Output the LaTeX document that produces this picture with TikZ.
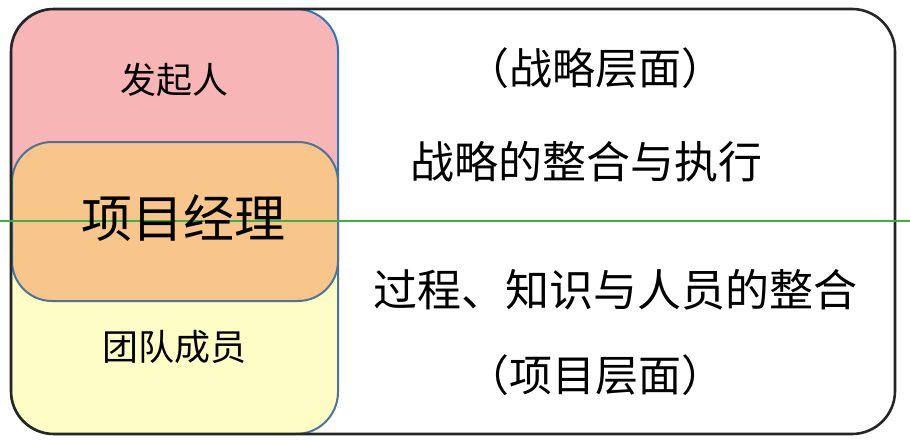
\documentclass[tikz,border=0pt]{standalone}
\usepackage{fontspec}
\setmainfont{Noto Sans CJK SC}
\usetikzlibrary{positioning}
\definecolor{cpink}{HTML}{F8B5B6}
\definecolor{corange}{HTML}{F8C68B}
\definecolor{cyellow}{HTML}{FFFDC6}
\definecolor{cblue}{HTML}{2E75C0}
\definecolor{cslate}{HTML}{4A7598}
\definecolor{cgreen}{HTML}{3CAF45}
\definecolor{cink}{HTML}{262626}

\tikzset{
  label/.style={inner sep=0pt,text=black},
  box/.style={line width=2pt}
}

\begin{document}
\begin{tikzpicture}[x=1pt,y=-1pt]
        \useasboundingbox (0,0) rectangle (910,442);
        % sponsor (top) and team members (bottom)
        \draw[box,cblue,fill=cpink,rounded corners=42pt] (11,221) -- (11,9) -- (338,9) -- (338,221);
        \draw[box,cslate,fill=cyellow,rounded corners=42pt] (11,221) -- (11,434) -- (338,434) -- (338,221);
        % project manager in the middle
        \draw[box,cslate,fill=corange,rounded corners=40pt] (12,142) rectangle (338,301);
        % outer frame
        \draw[cink,line width=2.6pt,rounded corners=43pt] (11,9) rectangle (895,434);
        \draw[cgreen,line width=2.4pt] (0,221) -- (910,221);
        \node[label,font=\fontsize{36}{36}\selectfont] (sponsor) at (174,80) {发起人};
        \node[label,font=\fontsize{51}{51}\selectfont] (pm) at (183,218) {项目经理};
        \node[label,font=\fontsize{36}{36}\selectfont] (team) at (174,347) {团队成员};
        \node[label,font=\fontsize{43}{43}\selectfont] (stratlvl) at (595,68) {（战略层面）};
        \node[label,font=\fontsize{44}{44}\selectfont] (strat) at (586,162) {战略的整合与执行};
        \node[label,font=\fontsize{44}{44}\selectfont] (proc) at (615,290) {过程、知识与人员的整合};
        \node[label,font=\fontsize{43}{43}\selectfont] (projlvl) at (595,375) {（项目层面）};
\end{tikzpicture}
\end{document}
